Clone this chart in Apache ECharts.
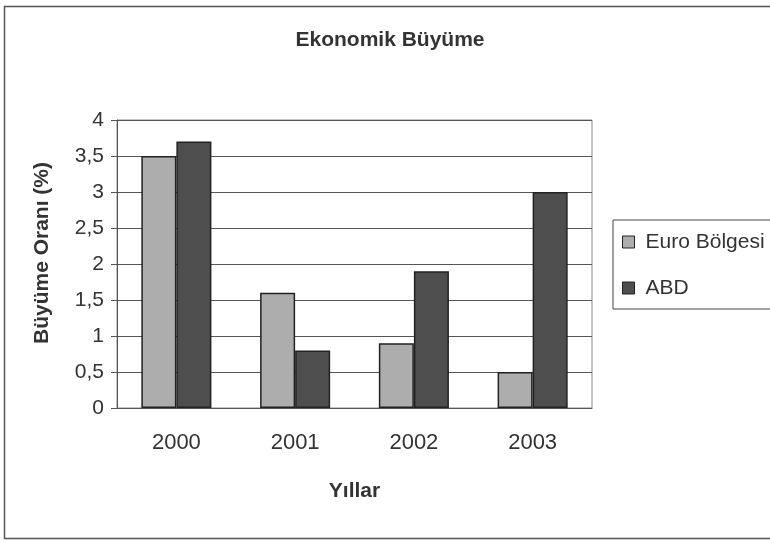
<!DOCTYPE html>
<html><head><meta charset="utf-8">
<script src="https://cdn.jsdelivr.net/npm/echarts@6/dist/echarts.min.js"></script>
<style>html,body{margin:0;padding:0;background:#fff}#c{width:770px;height:543px}</style>
</head><body><div id="c"></div>
<script>
const categories = ['2000', '2001', '2002', '2003'];
const euroValues = [3.5, 1.6, 0.9, 0.5];
const abdValues = [3.7, 0.8, 1.9, 3.0];
const yTicks = [0, 0.5, 1, 1.5, 2, 2.5, 3, 3.5, 4];

const font = "'Liberation Sans', Arial, sans-serif";
const chart = echarts.init(document.getElementById('c'));
chart.setOption({
  backgroundColor: '#fff',
  animation: false,
  graphic: [
    { type: 'rect', shape: { x: 4.5, y: 6.5, width: 780, height: 532 }, style: { fill: 'none', stroke: '#555', lineWidth: 1.5 }, silent: true }
  ],
  title: {
    text: 'Ekonomik Büyüme', left: 385, top: 25, textAlign: 'center',
    textStyle: { fontFamily: font, fontWeight: 'bold', fontSize: 21, color: '#333' }
  },
  legend: {
    orient: 'vertical', left: 613, top: 220,
    padding: [10, 60, 9, 9], itemGap: 22,
    borderColor: '#444', borderWidth: 1,
    itemWidth: 12, itemHeight: 12, icon: 'rect',
    itemStyle: { borderColor: '#222', borderWidth: 1 },
    textStyle: { fontFamily: font, fontSize: 21, color: '#333', lineHeight: 24, padding: [0, 0, 0, 6] },
    data: ['Euro Bölgesi', 'ABD']
  },
  grid: { left: 117, right: 178, top: 120, bottom: 135, show: true, borderColor: '#888', borderWidth: 1 },
  xAxis: {
    type: 'category', data: categories,
    name: 'Yıllar', nameLocation: 'middle', nameGap: 73,
    nameTextStyle: { fontFamily: font, fontWeight: 'bold', fontSize: 21, color: '#333' },
    axisLine: { lineStyle: { color: '#555' } },
    axisTick: { length: 6, lineStyle: { color: '#555' } },
    axisLabel: { fontFamily: font, fontSize: 22, color: '#333', margin: 24 }
  },
  yAxis: {
    type: 'value', min: 0, max: 4, interval: 0.5,
    name: 'Büyüme Oranı (%)', nameLocation: 'middle', nameGap: 64,
    nameTextStyle: { fontFamily: font, fontWeight: 'bold', fontSize: 21, color: '#333', padding: [0, 0, 0, 22] },
    axisLine: { show: true, lineStyle: { color: '#555' } },
    axisTick: { show: true, length: 6, lineStyle: { color: '#555' } },
    splitLine: { lineStyle: { color: '#555' } },
    axisLabel: {
      fontFamily: font, fontSize: 21, color: '#333', margin: 13,
      formatter: v => yTicks.includes(v) ? String(v).replace('.', ',') : ''
    }
  },
  series: [
    { name: 'Euro Bölgesi', type: 'bar', data: euroValues, barGap: '0%', barCategoryGap: '41%',
      itemStyle: { color: '#adadad', borderColor: '#222', borderWidth: 1.5 } },
    { name: 'ABD', type: 'bar', data: abdValues,
      itemStyle: { color: '#4e4e4e', borderColor: '#222', borderWidth: 1.5 } }
  ]
});
</script></body></html>
